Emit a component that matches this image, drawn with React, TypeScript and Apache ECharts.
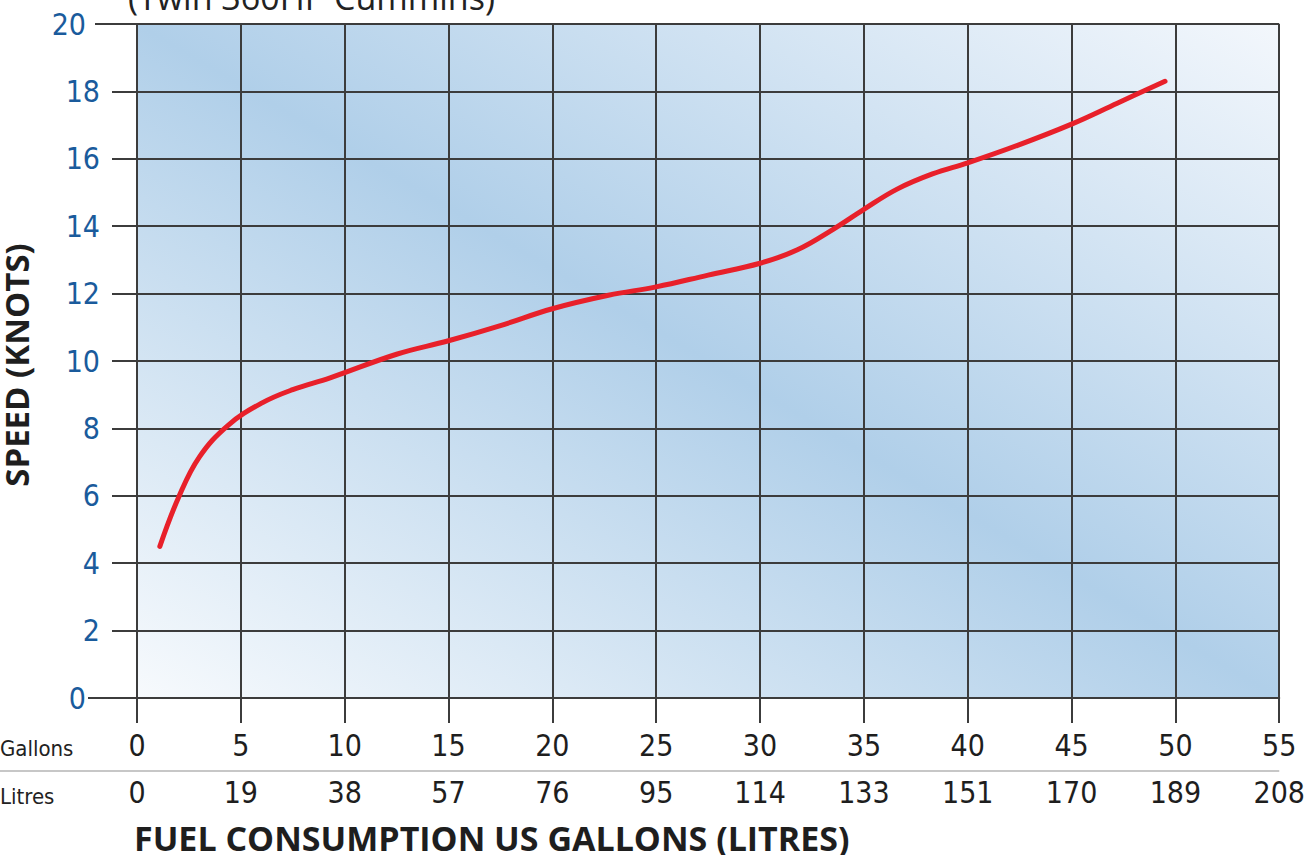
import React, { useEffect, useRef } from "react";
import * as echarts from "echarts";

const gallonTicks = [0, 5, 10, 15, 20, 25, 30, 35, 40, 45, 50, 55];
const litreLabels = ["0", "19", "38", "57", "76", "95", "114", "133", "151", "170", "189", "208"];
const gallons = [1.1, 2.0, 3.0, 4.4, 6.0, 7.5, 9.3, 12.5, 15, 17.5, 20, 22.7, 25, 27.5, 30, 31.8, 33.5, 35, 36.6, 38.3, 40, 42.4, 45, 47.2, 49.5];
const knots = [4.5, 5.95, 7.15, 8.1, 8.75, 9.15, 9.5, 10.2, 10.6, 11.05, 11.55, 11.95, 12.2, 12.55, 12.9, 13.3, 13.9, 14.5, 15.1, 15.55, 15.88, 16.4, 17.03, 17.65, 18.3];

const NARROW = "'Liberation Sans Narrow', 'DejaVu Sans Condensed', 'Arial Narrow', sans-serif";
const BOLD = "'Open Sans', 'DejaVu Sans', sans-serif";

export default function App() {
  const ref = useRef<HTMLDivElement>(null);
  useEffect(() => {
    if (!ref.current) return;
    const chart = echarts.init(ref.current, null, { renderer: "svg" });
    const lineData = gallons.map((g, i) => [g, knots[i]]);
    chart.setOption({
      animation: false,
      backgroundColor: "#ffffff",
      grid: {
        left: 137,
        right: 25,
        top: 24,
        bottom: 157,
        show: true,
        borderWidth: 0,
        backgroundColor: new echarts.graphic.LinearGradient(0, 1, 1, 0, [
          { offset: 0, color: "#f7fafd" },
          { offset: 0.5, color: "#b0cfe9" },
          { offset: 1, color: "#f3f7fc" },
        ]),
      },
      xAxis: [
        {
          type: "value",
          min: 0,
          max: 55,
          interval: 5,
          position: "bottom",
          axisLine: { show: true, lineStyle: { color: "#3c3c3c", width: 2 } },
          axisTick: { show: true, length: 25, lineStyle: { color: "#3c3c3c", width: 2 } },
          splitLine: { show: true, lineStyle: { color: "#3c3c3c", width: 2 } },
          axisLabel: {
            margin: 32,
            color: "#1e1e1e",
            fontSize: 30,
            fontFamily: NARROW,
            showMinLabel: true,
            showMaxLabel: true,
          },
        },
        {
          type: "value",
          min: 0,
          max: 55,
          interval: 5,
          position: "bottom",
          offset: 47,
          axisLine: { show: false },
          axisTick: { show: false },
          splitLine: { show: false },
          axisLabel: {
            margin: 32,
            color: "#1e1e1e",
            fontSize: 30,
            fontFamily: NARROW,
            showMinLabel: true,
            showMaxLabel: true,
            formatter: (v: number) => {
              const i = gallonTicks.indexOf(v);
              return i >= 0 ? litreLabels[i] : "";
            },
          },
        },
      ],
      yAxis: {
        type: "value",
        min: 0,
        max: 20,
        interval: 2,
        axisLine: { show: false },
        axisTick: { show: true, length: 25, lineStyle: { color: "#3c3c3c", width: 2 } },
        splitLine: { show: true, lineStyle: { color: "#3c3c3c", width: 2 } },
        axisLabel: {
          margin: 37,
          color: "#1a5b9c",
          fontSize: 30,
          fontFamily: NARROW,
          showMinLabel: true,
          showMaxLabel: true,
          formatter: (v: number) => (v === 0 || v === 20 ? `{e|${v}}` : `{n|${v}}`),
          rich: {
            e: { color: "#1a5b9c", fontSize: 30, fontFamily: NARROW, padding: [0, 14, 0, 0] },
            n: { color: "#1a5b9c", fontSize: 30, fontFamily: NARROW },
          },
        },
      },
      series: [
        {
          type: "line",
          data: lineData,
          smooth: 0.4,
          showSymbol: false,
          symbol: "none",
          lineStyle: { color: "#e8202a", width: 5, cap: "round" },
          z: 5,
        },
      ],
    });
    const y0 = chart.convertToPixel({ yAxisIndex: 0 }, 0) as number;
    const y20 = chart.convertToPixel({ yAxisIndex: 0 }, 20) as number;
    const xL = chart.convertToPixel({ xAxisIndex: 0 }, 0) as number;
    const xR = chart.convertToPixel({ xAxisIndex: 0 }, 55) as number;
    chart.setOption({
      graphic: [
        { type: "line", shape: { x1: 88, y1: y0, x2: xL, y2: y0 }, style: { stroke: "#3c3c3c", lineWidth: 2 } },
        { type: "line", shape: { x1: 95, y1: y20, x2: xL, y2: y20 }, style: { stroke: "#3c3c3c", lineWidth: 2 } },
        { type: "line", shape: { x1: 0, y1: 771, x2: xR, y2: 771 }, style: { stroke: "#b5b5b5", lineWidth: 1.5 } },
        { type: "text", x: 0, y: 748, style: { text: "Gallons", font: `22px ${NARROW}`, fill: "#222", verticalAlign: "middle" } },
        { type: "text", x: 0, y: 796, style: { text: "Litres", font: `22px ${NARROW}`, fill: "#222", verticalAlign: "middle" } },
        { type: "text", x: 134, y: 838, style: { text: "FUEL CONSUMPTION US GALLONS (LITRES)", font: `bold 34px ${BOLD}`, lineHeight: 30, fill: "#1e1e1e", verticalAlign: "middle" } },
        { type: "text", x: 16, y: 365, rotation: Math.PI / 2, style: { text: "SPEED (KNOTS)", font: `bold 33px ${BOLD}`, lineHeight: 30, fill: "#1e1e1e", align: "center", verticalAlign: "middle" } },
        { type: "text", x: 128, y: 14, style: { text: "(Twin 360HP Cummins)", font: `34px ${BOLD}`, fill: "#222", verticalAlign: "bottom" } },
      ],
    });
    return () => chart.dispose();
  }, []);
  return <div ref={ref} style={{ width: 1308, height: 855, position: "absolute", left: 0, top: 0 }} />;
}
